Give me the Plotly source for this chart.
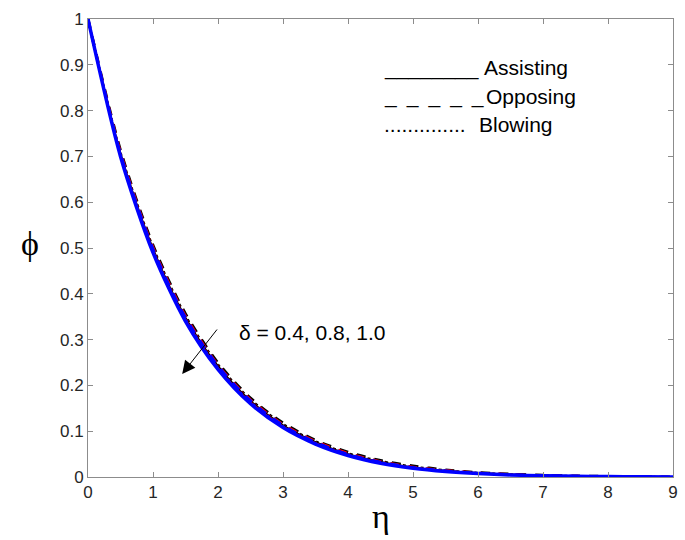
import plotly.graph_objects as go

eta = [0, 0.5, 1, 1.5, 2, 2.5, 3, 3.5, 4, 4.5, 5, 5.5, 6, 6.5, 7, 7.5, 8, 8.5, 9]

# Assisting flow (solid), delta = 0.4, 0.8, 1.0
phi_assist_04 = [1, 0.706, 0.498, 0.348, 0.242, 0.166, 0.113, 0.076, 0.050, 0.033, 0.021, 0.0135, 0.0085, 0.0052, 0.0032, 0.0019, 0.0010, 0.0004, 0.0]
phi_assist_08 = [1, 0.703, 0.494, 0.344, 0.238, 0.163, 0.110, 0.074, 0.048, 0.031, 0.020, 0.0127, 0.0080, 0.0048, 0.0029, 0.0017, 0.0009, 0.0004, 0.0]
phi_assist_10 = [1, 0.700, 0.490, 0.340, 0.235, 0.160, 0.108, 0.072, 0.047, 0.030, 0.019, 0.0120, 0.0075, 0.0045, 0.0027, 0.0016, 0.0009, 0.0004, 0.0]
# Opposing flow (dashed)
phi_oppose_04 = [1, 0.713, 0.506, 0.356, 0.249, 0.172, 0.118, 0.080, 0.054, 0.036, 0.024, 0.0155, 0.0098, 0.0062, 0.0038, 0.0023, 0.0013, 0.0005, 0.0]
phi_oppose_08 = [1, 0.710, 0.502, 0.352, 0.245, 0.169, 0.115, 0.078, 0.052, 0.034, 0.022, 0.0145, 0.0092, 0.0057, 0.0035, 0.0021, 0.0012, 0.0005, 0.0]
phi_oppose_10 = [1, 0.707, 0.499, 0.349, 0.243, 0.167, 0.113, 0.076, 0.050, 0.033, 0.021, 0.0137, 0.0087, 0.0054, 0.0033, 0.0020, 0.0011, 0.0005, 0.0]
# Blowing (dotted)
phi_blow_04 = [1, 0.710, 0.503, 0.353, 0.246, 0.170, 0.116, 0.078, 0.052, 0.035, 0.023, 0.0148, 0.0093, 0.0058, 0.0036, 0.0022, 0.0012, 0.0005, 0.0]
phi_blow_08 = [1, 0.707, 0.499, 0.349, 0.243, 0.167, 0.113, 0.076, 0.050, 0.033, 0.021, 0.0138, 0.0087, 0.0054, 0.0033, 0.0020, 0.0011, 0.0005, 0.0]
phi_blow_10 = [1, 0.704, 0.495, 0.345, 0.239, 0.164, 0.111, 0.074, 0.049, 0.032, 0.020, 0.0130, 0.0082, 0.0050, 0.0031, 0.0018, 0.0010, 0.0004, 0.0]

x_ticks = [0, 1, 2, 3, 4, 5, 6, 7, 8, 9]
y_ticks = [0, 0.1, 0.2, 0.3, 0.4, 0.5, 0.6, 0.7, 0.8, 0.9, 1]
y_tick_text = ["0", "0.1", "0.2", "0.3", "0.4", "0.5", "0.6", "0.7", "0.8", "0.9", "1"]

fig = go.Figure()

def add(y, color, dash, width):
    fig.add_trace(go.Scatter(x=eta, y=y, mode="lines", line=dict(color=color, dash=dash, width=width, shape="spline", smoothing=0.8), showlegend=False, hoverinfo="skip"))

add(phi_oppose_04, "black", "dash", 3)
add(phi_blow_04, "black", "dot", 2)
add(phi_oppose_08, "red", "dash", 2.5)
add(phi_blow_08, "red", "dot", 2)
add(phi_assist_04, "black", "solid", 2)
add(phi_assist_08, "red", "solid", 2)
add(phi_oppose_10, "blue", "dash", 2.5)
add(phi_blow_10, "blue", "dot", 2)
add(phi_assist_10, "blue", "solid", 3.5)

axis_common = dict(showline=True, mirror="ticks", linecolor="#8c8c8c", linewidth=1,
                   ticks="inside", ticklen=5, tickcolor="#8c8c8c", showgrid=False, zeroline=False,
                   tickfont=dict(family="Liberation Sans, Arial", size=17, color="#262626"))

fig.update_layout(
    width=685, height=540,
    margin=dict(l=88, r=7, t=19, b=63),
    plot_bgcolor="white", paper_bgcolor="white",
    xaxis=dict(range=[0, 9], tickvals=x_ticks, **axis_common),
    yaxis=dict(range=[0, 1], tickvals=y_ticks, ticktext=y_tick_text, **axis_common),
)

def px_x(p):
    return (p - 88) / 590

def px_y(p):
    return (477 - p) / 458

fig.add_annotation(xref="paper", yref="paper", x=px_x(383), y=px_y(516), yanchor="middle", text="η", showarrow=False,
                   font=dict(family="Liberation Serif, Times New Roman", size=34, color="black"))
fig.add_annotation(xref="paper", yref="paper", x=px_x(29), xanchor="center", y=px_y(243), yanchor="middle", text="ϕ", showarrow=False,
                   font=dict(family="Liberation Serif, Times New Roman", size=34, color="black"))

leg_font = dict(family="Liberation Sans, Arial", size=21, color="black")
gap = "\u2009 "
rows = [("________", "Assisting", 68, 485),
        (gap.join(["_"] * 5), "Opposing", 96, 487),
        ("..............", "Blowing", 124, 480)]
for line_txt, word, ypx, xw in rows:
    fig.add_annotation(xref="paper", yref="paper", x=px_x(385), xanchor="left", y=px_y(ypx), yanchor="middle",
                       text=line_txt, showarrow=False, font=leg_font)
    fig.add_annotation(xref="paper", yref="paper", x=px_x(xw), xanchor="left", y=px_y(ypx), yanchor="middle",
                       text=word, showarrow=False, font=leg_font)

fig.add_annotation(xref="paper", yref="paper", x=px_x(238), xanchor="left", y=px_y(333), yanchor="middle",
                   text="δ = 0.4, 0.8, 1.0", showarrow=False, font=leg_font)
fig.add_annotation(x=(183 - 88) / 65.56, y=(477 - 374) / 458, ax=36, ay=-46, text="", showarrow=True,
                   arrowhead=2, arrowsize=2.6, arrowwidth=1, arrowcolor="black")

fig.write_html("out.html")
